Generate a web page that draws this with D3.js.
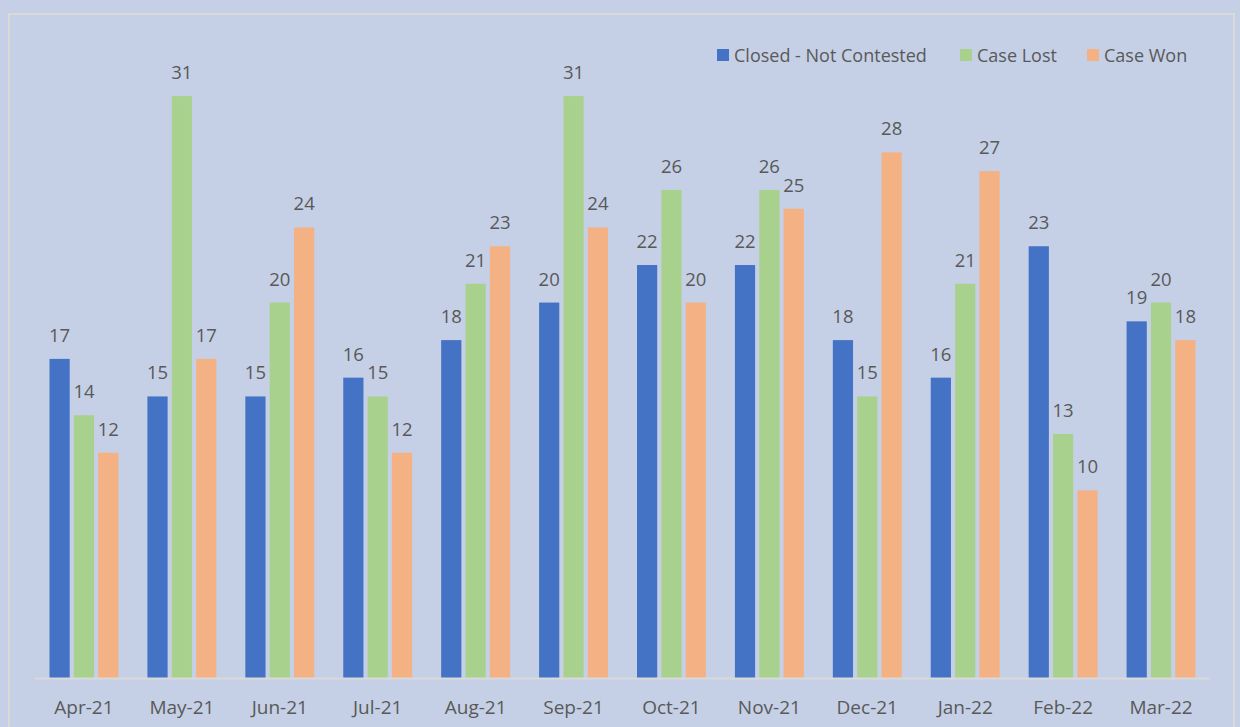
<!DOCTYPE html>
<html>
<head>
<meta charset="utf-8">
<script src="https://cdn.jsdelivr.net/npm/d3@7"></script>
<style>
  body { margin: 0; background: #c5d0e6; }
  svg { display: block; }
</style>
</head>
<body>
<svg id="chart" width="1240" height="727"></svg>
<script>
let months = ['Apr-21', 'May-21', 'Jun-21', 'Jul-21', 'Aug-21', 'Sep-21', 'Oct-21', 'Nov-21', 'Dec-21', 'Jan-22', 'Feb-22', 'Mar-22'];
let series = ['Closed - Not Contested', 'Case Lost', 'Case Won'];
let notContested = [17, 15, 15, 16, 18, 20, 22, 22, 18, 16, 23, 19];
let caseLost = [14, 31, 20, 15, 21, 31, 26, 26, 15, 21, 13, 20];
let caseWon = [12, 17, 24, 12, 23, 24, 20, 25, 28, 27, 10, 18];
let colors = ['#4472c4', '#a9d18e', '#f4b183'];

let vals = [notContested, caseLost, caseWon];
let svg = d3.select('#chart');

// outer frame
svg.append('rect')
    .attr('x', 9).attr('y', 14)
    .attr('width', 1225).attr('height', 730)
    .attr('fill', '#c5d0e6')
    .attr('stroke', '#d9dad6').attr('stroke-width', 2);

let x0 = d3.scaleBand().domain(months).range([35, 1210]).paddingInner(0).paddingOuter(0);
let x1 = d3.scaleBand().domain(series).range([14.5, x0.bandwidth() - 14.5]).paddingInner(0.17).paddingOuter(0);
let y = d3.scaleLinear().domain([0, 35]).range([678, 21]);

let g = svg.append('g');

months.forEach((m, i) => {
    let grp = g.append('g').attr('transform', 'translate(' + x0(m) + ',0)');
    series.forEach((s, k) => {
        let v = vals[k][i];
        grp.append('rect')
            .attr('x', x1(s))
            .attr('y', y(v))
            .attr('width', x1.bandwidth())
            .attr('height', y(0) - y(v))
            .attr('fill', colors[k]);
        grp.append('text')
            .attr('x', x1(s) + x1.bandwidth() / 2)
            .attr('y', y(v) - 17)
            .attr('text-anchor', 'middle')
            .attr('font-family', 'Open Sans, sans-serif')
            .attr('font-size', 18.5)
            .attr('fill', '#595959')
            .text(v);
    });
});

// baseline
svg.append('line')
    .attr('x1', 35).attr('x2', 1210)
    .attr('y1', y(0) + 0.5).attr('y2', y(0) + 0.5)
    .attr('stroke', '#d9d9d9').attr('stroke-width', 2);

// x axis labels
let xAxis = d3.axisBottom(x0).tickSize(0).tickPadding(0);
let ax = svg.append('g').attr('transform', 'translate(0,' + y(0) + ')').call(xAxis);
ax.select('.domain').remove();
ax.selectAll('text')
    .attr('dy', null)
    .attr('y', 36)
    .attr('font-family', 'Open Sans, sans-serif')
    .attr('font-size', 19)
    .attr('fill', '#595959');

// legend
let legX = [717, 960, 1087];
let leg = svg.append('g');
series.forEach((s, k) => {
    leg.append('rect')
        .attr('x', legX[k]).attr('y', 49)
        .attr('width', 12).attr('height', 12)
        .attr('fill', colors[k]);
    leg.append('text')
        .attr('x', legX[k] + 17).attr('y', 61.5)
        .attr('font-family', 'Open Sans, sans-serif')
        .attr('font-size', 18)
        .attr('fill', '#595959')
        .text(s);
});
</script>
</body>
</html>
